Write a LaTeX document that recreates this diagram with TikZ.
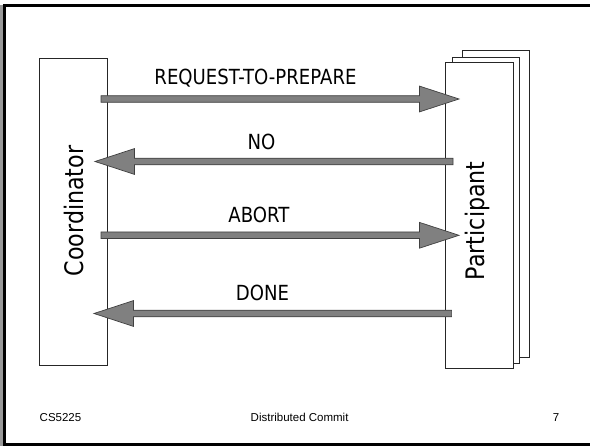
\documentclass[tikz,border=0pt]{standalone}
\usepackage{fontspec}
\setmainfont{DejaVu Sans}[FakeStretch=0.87]
\newfontfamily\footfont{Liberation Sans}
\usetikzlibrary{calc}
\newcommand\fatarr[3]{%
  \draw[fat] let \p1=(#1), \p2=(#2) in
   (\x1,\y1+3.3pt) -- (\x2-#3*39.5pt,\y1+3.3pt) -- (\x2-#3*39.5pt,\y1+12.9pt)
   -- (\x2,\y1) -- (\x2-#3*39.5pt,\y1-12.9pt) -- (\x2-#3*39.5pt,\y1-3.3pt)
   -- (\x1,\y1-3.3pt) -- cycle;}
\begin{document}
\begin{tikzpicture}[x=1pt,y=-1pt,
  box/.style={draw=black!85, line width=0.9pt, fill=white, inner sep=0, anchor=north west},
  fat/.style={draw=black!75, fill=black!50, line width=0.7pt, line join=miter},
  lbl/.style={font=\fontsize{20.8}{24}\selectfont, anchor=base, inner sep=0},
  side/.style={font=\fontsize{25.5}{30}\selectfont, anchor=base, inner sep=0, rotate=90},
  foot/.style={font=\footfont\fontsize{11.5}{14}\selectfont, anchor=base, inner sep=0}]
\useasboundingbox (0,0) rectangle (590,446);
\draw[black!40, line width=3pt] (1.5,5) -- (1.5,446);
\draw[black, line width=3pt] (4.5,446) -- (4.5,5.5) -- (590,5.5);
\draw[black, line width=3pt] (3,444.5) -- (590,444.5);
% boxes
\node[box, minimum width=67.7pt, minimum height=306.5pt] (coord) at (39.3,58.5) {};
\node[box, minimum width=67.2pt, minimum height=306.2pt] (pback) at (461.5,50.5) {};
\node[box, minimum width=67.8pt, minimum height=306pt] (pmid) at (451.6,57) {};
\node[box, minimum width=67.8pt, minimum height=306.1pt] (pfront) at (444.7,62.2) {};
\node[side] (ctext) at (83,211) {Coordinator};
\node[side] (ptext) at (484.3,220.8) {Participant};
% arrows
\coordinate (r1s) at (101,99);    \coordinate (r1e) at (459,99);
\coordinate (l2s) at (453,161.5); \coordinate (l2e) at (95,161.5);
\coordinate (r3s) at (101,235.3); \coordinate (r3e) at (459,235.3);
\coordinate (l4s) at (451.6,313.5); \coordinate (l4e) at (94,313.5);
\fatarr{r1s}{r1e}{1}
\fatarr{l2s}{l2e}{-1}
\fatarr{r3s}{r3e}{1}
\fatarr{l4s}{l4e}{-1}
\node[lbl] (t1) at (255.5,85) {REQUEST-TO-PREPARE};
\node[lbl] (t2) at (261.6,149.5) {NO};
\node[lbl] (t3) at (259,222.5) {ABORT};
\node[lbl] (t4) at (262.5,300.5) {DONE};
% footer
\node[foot, anchor=base west] (f1) at (39.5,422) {CS5225};
\node[foot] (f2) at (299.6,422) {Distributed Commit};
\node[foot] (f3) at (556,422) {7};
\end{tikzpicture}
\end{document}
